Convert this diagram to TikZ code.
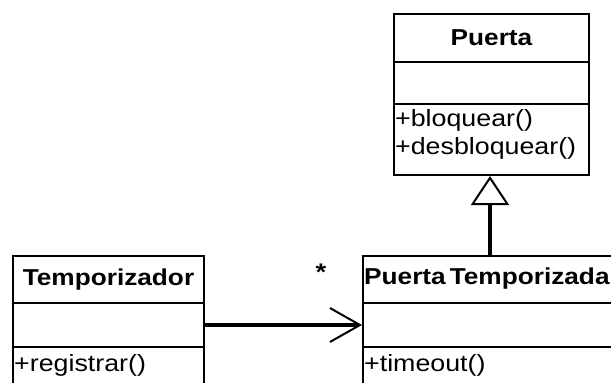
\documentclass[tikz,border=0pt]{standalone}
\usepackage{fontspec}
\setmainfont[FakeStretch=1.14]{Liberation Sans}
\usetikzlibrary{arrows.meta}
\begin{document}
\begin{tikzpicture}[x=1pt,y=-1pt,
  comp/.style={draw, line width=2pt, inner sep=0pt, anchor=north west, minimum width=#1},
  headtext/.style={font=\bfseries\fontsize{23}{27}\selectfont, inner sep=0pt},
  optext/.style={font=\fontsize{23.5}{28}\selectfont, inner sep=0pt, anchor=west},
  assoc/.style={line width=4pt, -{Straight Barb[length=30pt, width=34pt, line width=2pt]}},
  gen/.style={line width=4pt, -{Triangle[open, length=29pt, width=38pt, line width=2pt, fill=white]}}
]
\useasboundingbox (0,0) rectangle (611,383);
\clip (0,0) rectangle (611,383);
% Puerta
\node[comp=195pt, minimum height=48pt] (phead) at (393,13) {};
\node[comp=195pt, minimum height=42pt] (pattr) at (393,61) {};
\node[comp=195pt, minimum height=71pt] (pops) at (393,103) {};
\node[headtext] (pname) at (phead.center) {Puerta};
\node[optext] (pop1) at (395,120) {+bloquear()};
\node[optext] (pop2) at (395,148) {+desbloquear()};
% Temporizador
\node[comp=191pt, minimum height=47pt] (thead) at (12,255) {};
\node[comp=191pt, minimum height=44pt] (tattr) at (12,302) {};
\node[comp=191pt, minimum height=60pt] (tops) at (12,346) {};
\node[headtext] (tname) at (thead.center) {Temporizador};
\node[optext] (top1) at (14,365) {+registrar()};
% PuertaTemporizada
\node[comp=270pt, minimum height=47pt] (pthead) at (362,255) {};
\node[comp=270pt, minimum height=44pt] (ptattr) at (362,302) {};
\node[comp=270pt, minimum height=60pt] (ptops) at (362,346) {};
\node[headtext, anchor=west] (ptname) at (364,279) {Puerta\hspace{4pt}Temporizada};
\node[optext] (ptop1) at (364,365) {+timeout()};
% connectors
\coordinate (genstart) at (490,255);
\draw[gen] (genstart) -- (genstart |- pops.south);
\draw[assoc] (tattr.east) -- (ptattr.west);
\node[font=\bfseries\fontsize{24}{28}\selectfont, inner sep=0pt] (mult) at (321,272) {*};
\end{tikzpicture}
\end{document}
